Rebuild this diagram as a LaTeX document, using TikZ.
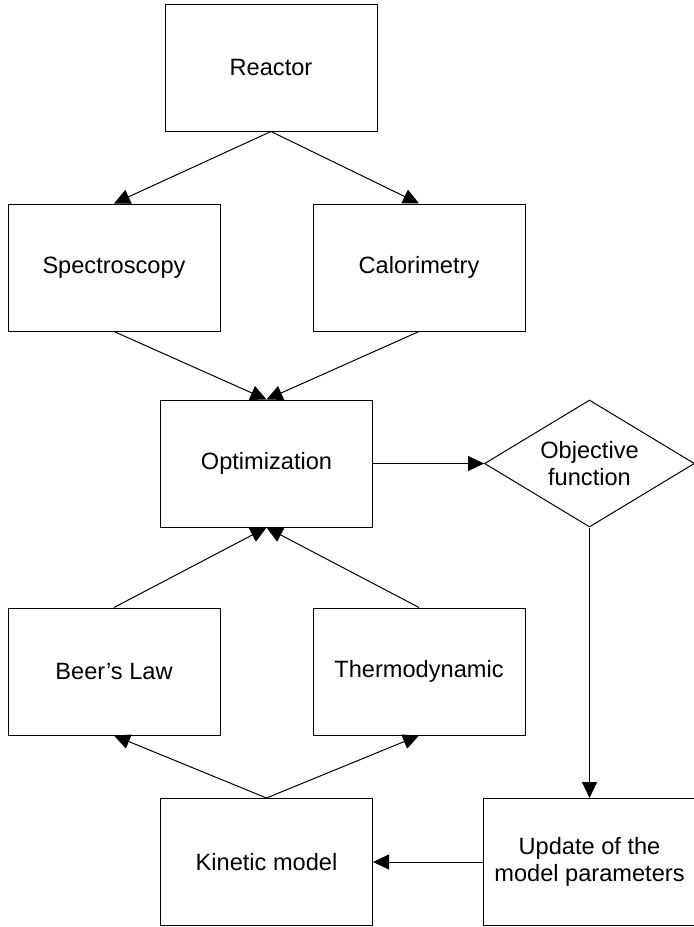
\documentclass[tikz,border=0pt]{standalone}
\usepackage{fontspec}
\setmainfont{Liberation Sans}
\usepackage{tikz}
\usetikzlibrary{arrows.meta,positioning,shapes.geometric}

\begin{document}
\begin{tikzpicture}[node distance=34pt,
  box/.style={draw,line width=.5pt,minimum width=106pt,minimum height=63.5pt,inner sep=0pt,align=center,font=\fontsize{11.8}{13.6}\selectfont},
  decision/.style={diamond,draw,line width=.5pt,minimum width=105pt,minimum height=63.5pt,aspect=1.65,inner sep=0pt,align=center,font=\fontsize{11.8}{13.6}\selectfont},
  flow/.style={-{Triangle[length=8pt,width=7.5pt]},line width=.5pt}]
\useasboundingbox (0,0) rectangle (346.5pt,-463.5pt);
\node[box] (opt) at (133.25pt,-231.75pt) {Optimization};
\node[box,above=of opt,xshift=-76.25pt] (spec) {Spectroscopy};
\node[box,above=of opt,xshift=76.25pt] (calor) {Calorimetry};
\node[box,above=36pt of spec,xshift=78.5pt] (reactor) {Reactor};
\node[decision,right=55.5pt of opt] (obj) {Objective\\function};
\node[box,below=40pt of opt,xshift=-76.25pt] (beer) {Beer’s Law};
\node[box,below=40pt of opt,xshift=76.25pt] (thermo) {Thermodynamic};
\node[box,below=31.25pt of beer,xshift=76.25pt] (kin) {Kinetic model};
\node[box,right=55pt of kin] (update) {Update of the\\model parameters};
\draw[flow] (reactor.south)--(spec.north);
\draw[flow] (reactor.south)--(calor.north);
\draw[flow] (spec.south)--(opt.north);
\draw[flow] (calor.south)--(opt.north);
\draw[flow] (beer.north)--(opt.south);
\draw[flow] (thermo.north)--(opt.south);
\draw[flow] (kin.north)--(beer.south);
\draw[flow] (kin.north)--(thermo.south);
\draw[flow] (opt.east)--(obj.west);
\draw[flow] (obj.south)--(update.north);
\draw[flow] (update.west)--(kin.east);
\end{tikzpicture}
\end{document}
